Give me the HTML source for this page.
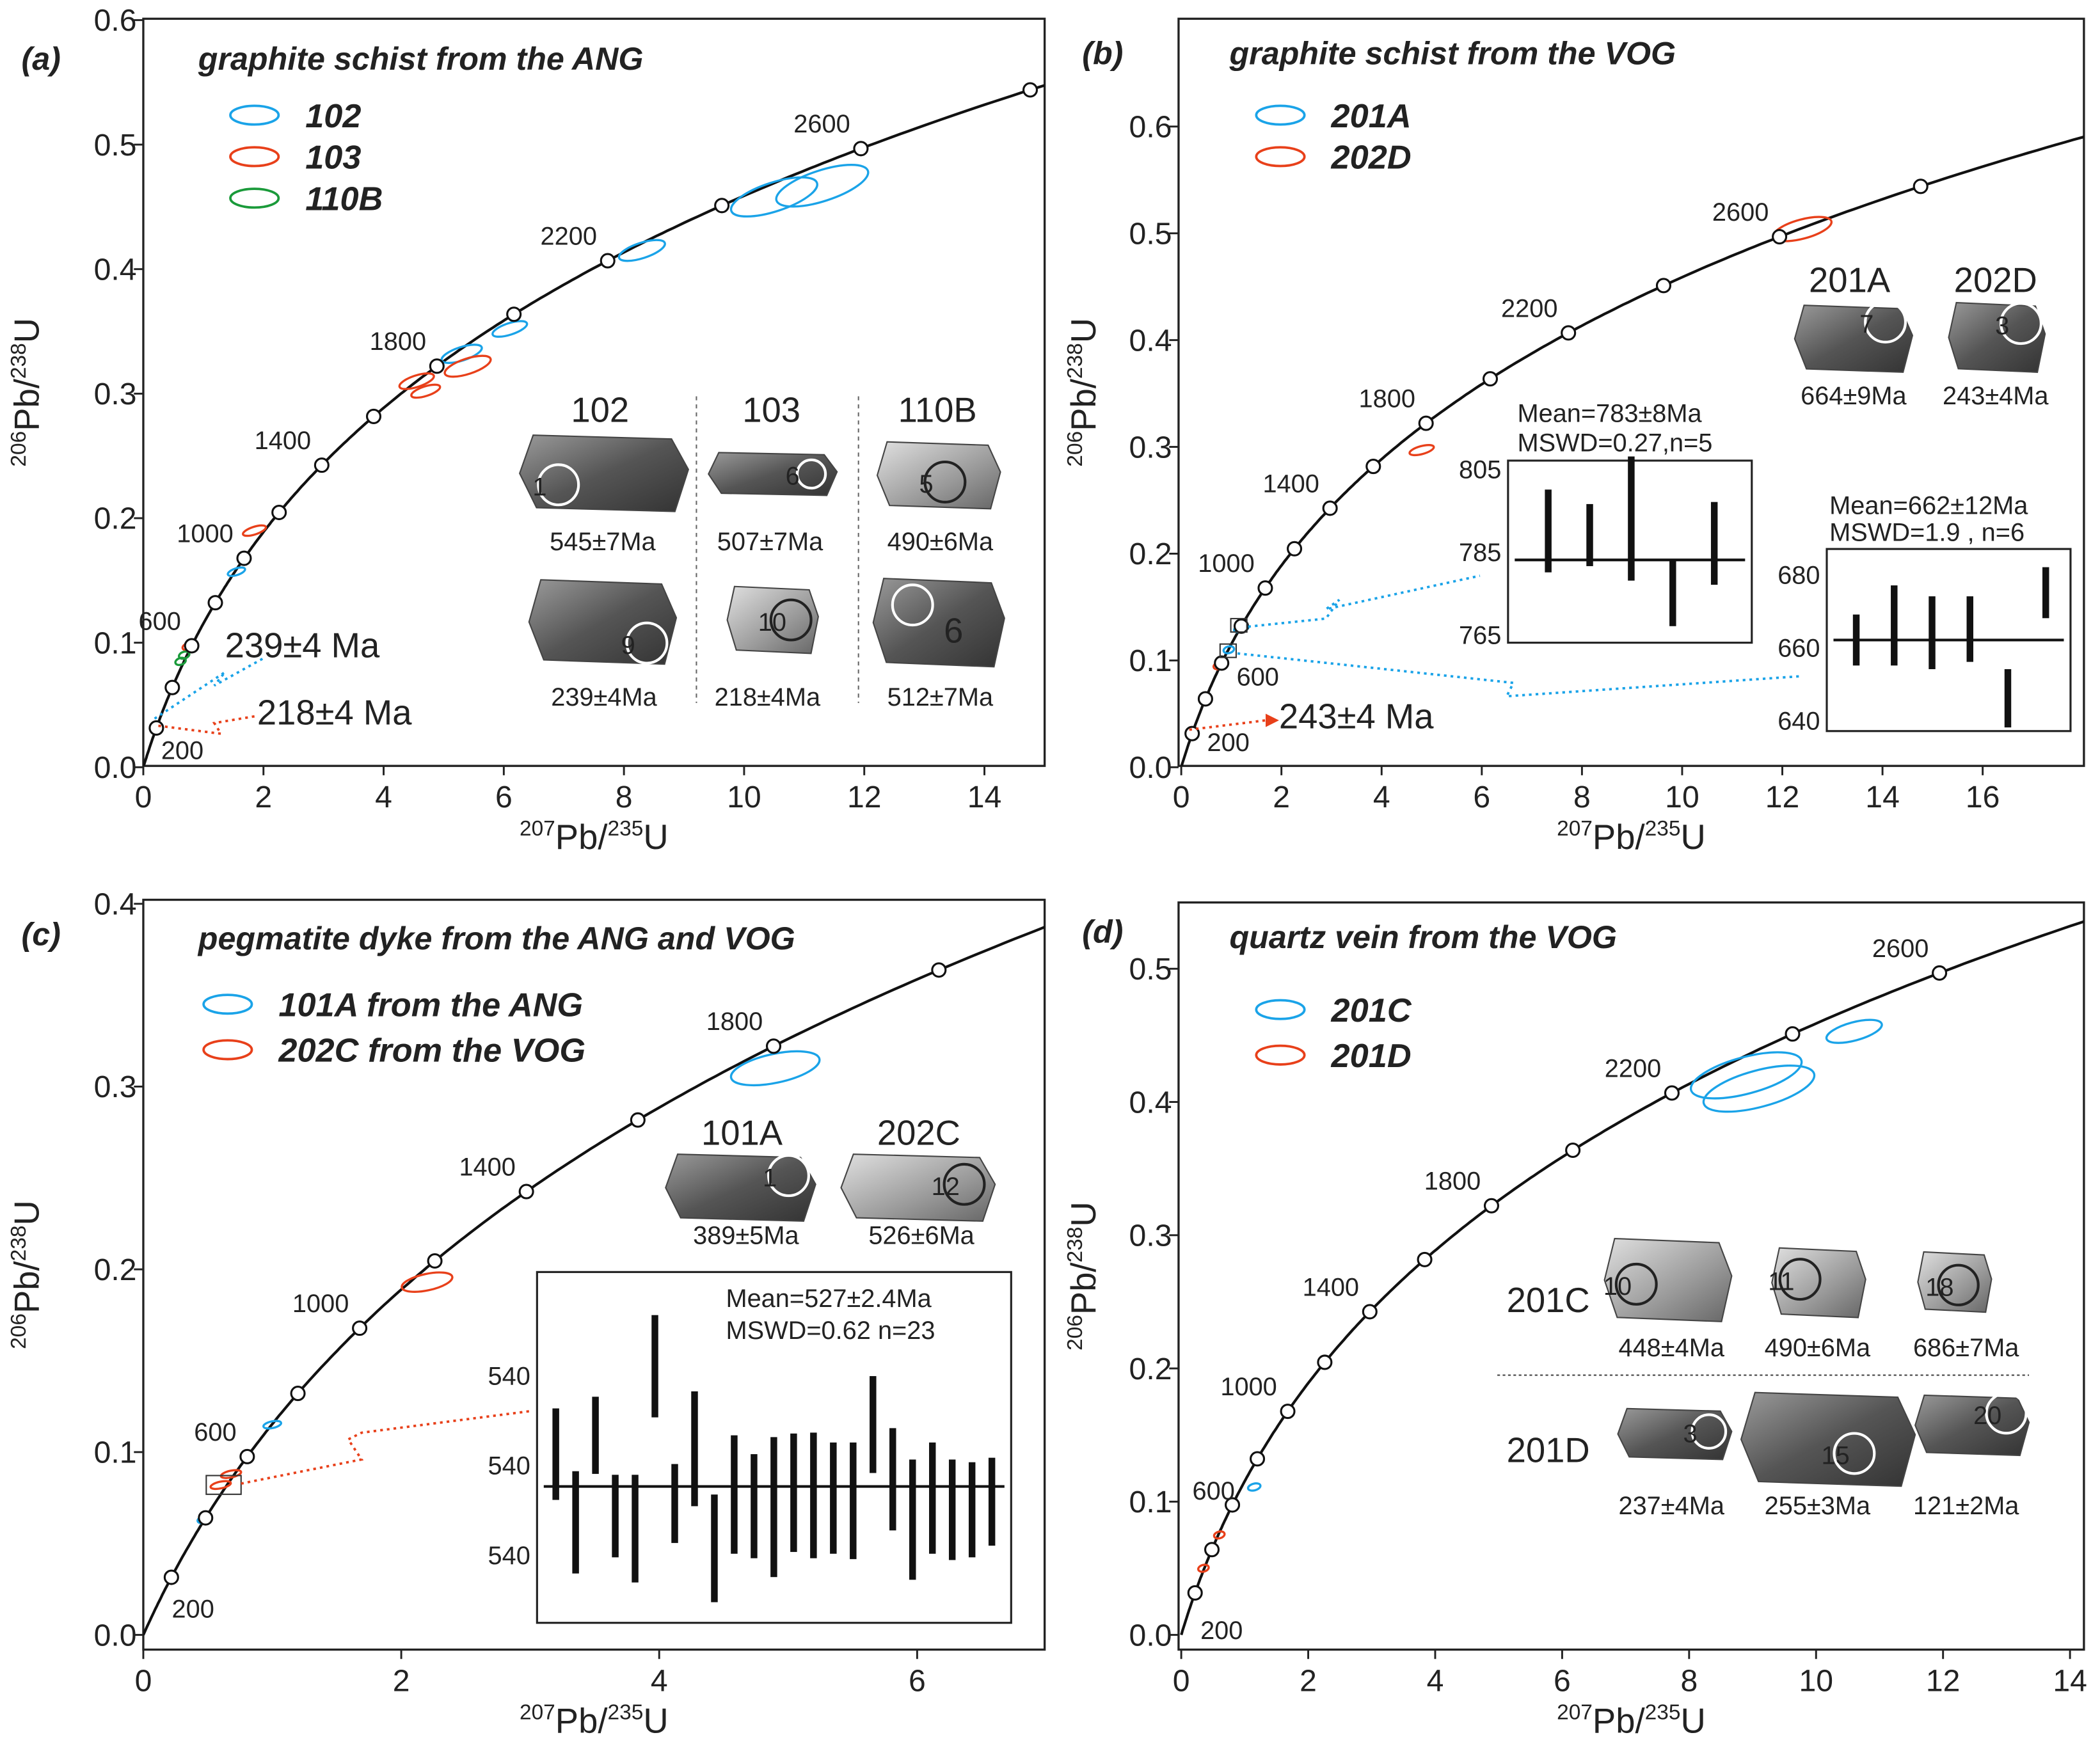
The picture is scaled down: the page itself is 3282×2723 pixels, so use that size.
<!DOCTYPE html>
<html><head><meta charset="utf-8"><style>
html,body{margin:0;padding:0;background:#fff}
svg{display:block}
text{font-family:"Liberation Sans",Arial,sans-serif;fill:#222}
.tk{font-size:23px}
.tt{font-size:26px}
.pl{font-size:24px;font-weight:bold;font-style:italic}
.lg{font-size:25px;font-weight:bold;font-style:italic}
.ag{font-size:19px}
.sm{font-size:19px}
</style></head><body>
<svg id="fig" width="3282" height="2723" viewBox="0 0 1568 1301" preserveAspectRatio="none" xmlns="http://www.w3.org/2000/svg">
<defs>
<linearGradient id="zg" x1="0" y1="0" x2="1" y2="1"><stop offset="0" stop-color="#9a9a9a"/><stop offset="0.5" stop-color="#555"/><stop offset="1" stop-color="#333"/></linearGradient>
<linearGradient id="zl" x1="0" y1="0" x2="1" y2="1"><stop offset="0" stop-color="#e0e0e0"/><stop offset="0.6" stop-color="#999"/><stop offset="1" stop-color="#666"/></linearGradient>
</defs>
</svg>
<script>
// ---- data ----
const L238 = 1.55125e-10, L235 = 9.8485e-10;
const agesA = [200,400,600,800,1000,1200,1400,1600,1800,2000,2200,2400,2600,2800];
const agesB = [200,400,600,800,1000,1200,1400,1600,1800,2000,2200,2400,2600,2800];
const agesC = [200,400,600,800,1000,1200,1400,1600,1800,2000];
const agesD = [200,400,600,800,1000,1200,1400,1600,1800,2000,2200,2400,2600];
const labA = [200,600,1000,1400,1800,2200,2600];
const labB = [200,600,1000,1400,1800,2200,2600];
const labC = [200,600,1000,1400,1800];
const labD = [200,600,1000,1400,1800,2200,2600];
const xticksA = [0,2,4,6,8,10,12,14], yticksA=[0,0.1,0.2,0.3,0.4,0.5,0.6];
const xticksB = [0,2,4,6,8,10,12,14,16], yticksB=[0,0.1,0.2,0.3,0.4,0.5,0.6];
const xticksC = [0,2,4,6], yticksC=[0,0.1,0.2,0.3,0.4];
const xticksD = [0,2,4,6,8,10,12,14], yticksD=[0,0.1,0.2,0.3,0.4,0.5];
// ellipses: [x, y, halfwidth(x units), color]
const ellA = [[10.5,0.458,0.75,'b'],[11.3,0.467,0.8,'b'],[8.3,0.415,0.4,'b'],[5.3,0.332,0.35,'b'],[6.1,0.352,0.3,'b'],[1.55,0.157,0.15,'b'],[4.55,0.31,0.3,'r'],[4.7,0.302,0.25,'r'],[5.4,0.322,0.4,'r'],[1.85,0.19,0.2,'r'],[0.75,0.097,0.1,'r'],[0.62,0.085,0.08,'g'],[0.68,0.09,0.08,'g']];
const ellB = [[12.4,0.504,0.6,'r'],[4.8,0.297,0.25,'r'],[1.2,0.13,0.15,'b'],[0.95,0.11,0.1,'b'],[0.75,0.095,0.08,'r']];
const ellC = [[4.9,0.31,0.35,'b'],[2.2,0.193,0.2,'r'],[1.0,0.115,0.07,'b'],[0.47,0.063,0.05,'b'],[0.6,0.082,0.08,'r'],[0.68,0.088,0.08,'r']];
const ellD = [[8.9,0.42,0.9,'b'],[9.1,0.41,0.9,'b'],[10.6,0.453,0.45,'b'],[1.15,0.111,0.1,'b'],[0.6,0.075,0.06,'r'],[0.35,0.05,0.05,'r']];
// weighted-mean insets: centers and errors
const wmB1 = [790,789,793,775,787], wmB1e=[10,7.5,15,8,10];
const wmB2 = [662,666,664,665,646,675], wmB2e=[7,11,10,9,8,7];
const wmC = [530.6,523.0,532.7,523.7,522.3,540.4,525.1,531.2,520.1,526.1,524.8,524.7,526.3,526.0,525.7,525.4,533.9,527.8,523.3,525.7,524.4,524.4,525.3];
const wmCe = [5.1,5.7,4.3,4.6,6.0,5.7,4.4,6.4,6.0,6.6,5.8,7.8,6.6,7.0,6.2,6.5,5.4,5.7,6.7,6.2,5.6,5.3,4.9];

const svg = document.getElementById('fig');
const NS = 'http://www.w3.org/2000/svg';
function mk(tag, at, parent, txt){const e=document.createElementNS(NS,tag);for(const k in at)e.setAttribute(k,at[k]);if(txt!==undefined)e.textContent=txt;(parent||svg).appendChild(e);return e;}
const COL={b:'#1aa3e8',r:'#e8401a',g:'#1a9a3a'};
function cx(t){return Math.exp(L235*t*1e6)-1;} function cy(t){return Math.exp(L238*t*1e6)-1;}

function panel(P){
  const g=mk('g',{});
  
  
  const X=v=>P.x0+v*P.sx, Y=v=>P.y0-v*P.sy;
  mk('clipPath',{id:'c'+P.id},g); mk('rect',{x:P.bx,y:P.by,width:P.bw,height:P.bh},g.lastChild);
  const fr=mk('rect',{x:P.bx,y:P.by,width:P.bw,height:P.bh,fill:'none',stroke:'#222','stroke-width':1.6},g);
   
  P.xt.forEach(v=>{mk('line',{x1:X(v),x2:X(v),y1:P.by+P.bh,y2:P.by+P.bh+7,stroke:'#222','stroke-width':1.4},g);
    const t=mk('text',{x:X(v),y:P.by+P.bh+31,'text-anchor':'middle',class:'tk'},g,String(v));
     });
  P.yt.forEach(v=>{mk('line',{x1:P.bx-7,x2:P.bx,y1:Y(v),y2:Y(v),stroke:'#222','stroke-width':1.4},g);
    const t=mk('text',{x:P.bx-5,y:Y(v)+8,'text-anchor':'end',class:'tk'},g,v.toFixed(1));
     });
  const xt=mk('text',{x:P.bx+P.bw/2,y:P.by+P.bh+62,'text-anchor':'middle',class:'tt'},g);
   
  xt.innerHTML='<tspan font-size="16" dy="-10">207</tspan><tspan dy="10">Pb/</tspan><tspan font-size="16" dy="-10">235</tspan><tspan dy="10">U</tspan>';
  const yx=P.bx-P.yoff, yy=P.by+P.bh/2;
  const yt=mk('text',{x:yx,y:yy,'text-anchor':'middle',class:'tt',transform:`rotate(-90 ${yx} ${yy})`},g);
   
  yt.innerHTML='<tspan font-size="16" dy="-10">206</tspan><tspan dy="10">Pb/</tspan><tspan font-size="16" dy="-10">238</tspan><tspan dy="10">U</tspan>';
  const cg=mk('g',{'clip-path':`url(#c${P.id})`},g);
  let d='';for(let t=0;t<=4000;t+=10){d+=(t?'L':'M')+X(cx(t)).toFixed(1)+','+Y(cy(t)).toFixed(1);}
  const cu=mk('path',{d:d,fill:'none',stroke:'#111','stroke-width':2},cg);
   
  P.ell.forEach(e=>{const px=X(e[0]),py=Y(e[1]),rx=e[2]*P.sx;
    const el=mk('ellipse',{cx:px,cy:py,rx:Math.max(rx,4),ry:Math.max(rx*0.32,2.5),fill:'none',stroke:COL[e[3]],'stroke-width':1.6,transform:`rotate(${P.rot} ${px} ${py})`},cg);
     });
  P.ages.forEach(a=>{const c=mk('circle',{cx:X(cx(a)),cy:Y(cy(a)),r:5,fill:'#fff',stroke:'#111','stroke-width':1.5},cg);
     });
  P.labs.forEach(a=>{const t=mk('text',{x:X(cx(a))+P.lo[0],y:Y(cy(a))+P.lo[1],'text-anchor':'end',class:'ag'},g,String(a));
     });
  return {g,X,Y};
}
function legend(g,x,y,items,dy){items.forEach((it,i)=>{
  const e=mk('ellipse',{cx:x,cy:y+i*dy,rx:18,ry:7,fill:'none',stroke:COL[it[1]],'stroke-width':1.8},g);
   
  const t=mk('text',{x:x+38,y:y+i*dy+9,class:'lg'},g,it[0]);
   });}
function txt(g,x,y,s,cls,name,anchor){const t=mk('text',{x:x,y:y,class:cls||'sm','text-anchor':anchor||'middle'},g,s);
   return t;}
function zircon(g,x,y,w,h,fill,cxr,cyr,lab){
  const z=mk('path',{d:`M${x+w*0.08},${y} L${x+w*0.9},${y+h*0.05} L${x+w},${y+h*0.45} L${x+w*0.92},${y+h} L${x+w*0.1},${y+h*0.95} L${x},${y+h*0.5} Z`,fill:fill,stroke:'#444','stroke-width':1},g);
   
  mk('circle',{cx:x+w*cxr,cy:y+h*cyr,r:Math.min(h*0.33,15),fill:'none',stroke:fill==='url(#zl)'?'#222':'#fff','stroke-width':2},g);
  if(lab)txt(g,x+w*cxr-14,y+h*cyr+8,lab,'sm','spot-number');}
function dotted(g,pts,col){const p=mk('polyline',{points:pts,fill:'none',stroke:col,'stroke-width':1.8,'stroke-dasharray':'2 3'},g);
   }
function wm(g,bx,by,bw,bh,vals,errs,ymin,ymax,mean,ticks,tlabels,barx0,barstep){
  const r=mk('rect',{x:bx,y:by,width:bw,height:bh,fill:'#fff',stroke:'#222','stroke-width':1.5},g);
   
  const V=v=>by+bh-(v-ymin)/(ymax-ymin)*bh;
  const ml=mk('line',{x1:bx+5,x2:bx+bw-5,y1:V(mean),y2:V(mean),stroke:'#111','stroke-width':2},g);
   
  vals.forEach((v,i)=>{const b=mk('rect',{x:barx0+i*barstep-2.5,y:V(v+errs[i]),width:5,height:V(v-errs[i])-V(v+errs[i]),fill:'#111'},g);
     });
  ticks.forEach((t,i)=>txt(g,bx-5,V(t)+7,tlabels[i],'sm','inset-tick-label','end'));
}

// ---- Panel a ----
let A=panel({id:'a',name:'panel-a',x0:107,y0:573,sx:44.86,sy:930,bx:107,by:14,bw:673,bh:558,xt:xticksA,yt:yticksA,ell:ellA,ages:agesA,labs:labA,lo:[-8,-12],rot:-18,yoff:78});
A.g.querySelectorAll('text.ag').forEach((t,i)=>{if(i===0){t.setAttribute('x',152);t.setAttribute('y',567);}});
txt(A.g,16,52,'(a)','pl','panel-label','start');
txt(A.g,148,52,'graphite schist from the ANG','pl','panel-title','start');
legend(A.g,190,86,[['102','b'],['103','r'],['110B','g']],31);
txt(A.g,168,491,'239±4 Ma','tt','age-annotation','start');
txt(A.g,192,541,'218±4 Ma','tt','age-annotation','start');
dotted(A.g,'196,492 160,512 168,502 115,537','#1aa3e8');
dotted(A.g,'190,535 160,540 165,548 118,542','#e8401a');
txt(A.g,448,315,'102','tt','inset-label');txt(A.g,576,315,'103','tt','inset-label');txt(A.g,700,315,'110B','tt','inset-label');
mk('line',{x1:520,x2:520,y1:296,y2:525,stroke:'#666','stroke-dasharray':'3 3'},A.g);
mk('line',{x1:641,x2:641,y1:296,y2:525,stroke:'#666','stroke-dasharray':'3 3'},A.g);
zircon(A.g,388,325,126,57,'url(#zg)',0.23,0.65,'1');zircon(A.g,529,338,96,32,'url(#zg)',0.8,0.5,'6');zircon(A.g,655,330,92,50,'url(#zl)',0.55,0.6,'5');
zircon(A.g,395,433,110,63,'url(#zg)',0.8,0.75,'9');zircon(A.g,543,438,68,50,'url(#zl)',0.7,0.5,'10');zircon(A.g,652,432,98,66,'url(#zg)',0.3,0.3,'');
txt(A.g,712,480,'6','tt','spot-number');
txt(A.g,450,411,'545±7Ma');txt(A.g,575,411,'507±7Ma');txt(A.g,702,411,'490±6Ma');
txt(A.g,451,527,'239±4Ma');txt(A.g,573,527,'218±4Ma');txt(A.g,702,527,'512±7Ma');

// ---- Panel b ----
let B=panel({id:'b',name:'panel-b',x0:882,y0:573,sx:37.4,sy:797.5,bx:880,by:14,bw:676,bh:558,xt:xticksB,yt:yticksB,ell:ellB,ages:agesB,labs:labB,lo:[-8,-12],rot:-15,yoff:62});
B.g.querySelectorAll('text.ag').forEach((t,i)=>{if(i===0){t.setAttribute('x',933);t.setAttribute('y',561);}if(i===1){t.setAttribute('x',955);t.setAttribute('y',512);}});
txt(B.g,808,48,'(b)','pl','panel-label','start');
txt(B.g,918,48,'graphite schist from the VOG','pl','panel-title','start');
legend(B.g,956,86,[['201A','b'],['202D','r']],31);
txt(B.g,1381,218,'201A','tt','inset-label');txt(B.g,1490,218,'202D','tt','inset-label');
zircon(B.g,1340,228,88,50,'url(#zg)',0.77,0.25,'7');zircon(B.g,1455,226,72,52,'url(#zg)',0.75,0.3,'3');
txt(B.g,1384,302,'664±9Ma');txt(B.g,1490,302,'243±4Ma');
txt(B.g,1133,315,'Mean=783±8Ma','sm','mean-annotation','start');txt(B.g,1133,337,'MSWD=0.27,n=5','sm','mean-annotation','start');
wm(B.g,1126,344,182,136,wmB1,wmB1e,763,807,783,[805,785,765],['805','785','765'],1156,31);
txt(B.g,1366,384,'Mean=662±12Ma','sm','mean-annotation','start');txt(B.g,1366,404,'MSWD=1.9 , n=6','sm','mean-annotation','start');
wm(B.g,1364,410,182,136,wmB2,wmB2e,637,687,662,[680,660,640],['680','660','640'],1386,28.3);
mk('rect',{x:919,y:462,width:12,height:10,fill:'none',stroke:'#333'},B.g);mk('rect',{x:911,y:481,width:12,height:10,fill:'none',stroke:'#333'},B.g);
dotted(B.g,'932,468 990,462 1000,448 990,455 1105,430','#1aa3e8');
dotted(B.g,'924,488 1130,510 1125,520 1345,505','#1aa3e8');
dotted(B.g,'888,545 945,538','#e8401a');
mk('path',{d:'M945,533 L955,538 L945,543 Z',fill:'#e8401a'},B.g);
txt(B.g,955,544,'243±4 Ma','tt','age-annotation','start');

// ---- Panel c ----
let C=panel({id:'c',name:'panel-c',x0:107,y0:1221,sx:96.3,sy:1365,bx:107,by:672,bw:673,bh:560,xt:xticksC,yt:yticksC,ell:ellC,ages:agesC,labs:labC,lo:[-8,-12],rot:-12,yoff:78});
C.g.querySelectorAll('text.ag').forEach((t,i)=>{if(i===0){t.setAttribute('x',160);t.setAttribute('y',1208);}});
txt(C.g,16,706,'(c)','pl','panel-label','start');
txt(C.g,148,709,'pegmatite dyke from the ANG and VOG','pl','panel-title','start');
legend(C.g,170,750,[['101A from the ANG','b'],['202C from the VOG','r']],34);
txt(C.g,554,855,'101A','tt','inset-label');txt(C.g,686,855,'202C','tt','inset-label');
zircon(C.g,497,862,112,50,'url(#zg)',0.82,0.32,'1');zircon(C.g,628,862,115,50,'url(#zl)',0.8,0.45,'12');
txt(C.g,557,929,'389±5Ma');txt(C.g,688,929,'526±6Ma');
wm(C.g,401,950,354,262,wmC,wmCe,511.8,550.9,527,[539.4,529.4,519.4],['540','540','540'],415,14.8);
txt(C.g,542,976,'Mean=527±2.4Ma','sm','mean-annotation','start');txt(C.g,542,1000,'MSWD=0.62   n=23','sm','mean-annotation','start');
mk('rect',{x:154,y:1102,width:26,height:14,fill:'none',stroke:'#333'},C.g);
dotted(C.g,'180,1108 270,1090 260,1075 270,1070 395,1054','#e8401a');

// ---- Panel d ----
let D=panel({id:'d',name:'panel-d',x0:882,y0:1221,sx:47.4,sy:995,bx:880,by:674,bw:676,bh:558,xt:xticksD,yt:yticksD,ell:ellD,ages:agesD,labs:labD,lo:[-8,-12],rot:-15,yoff:62});
D.g.querySelectorAll('text.ag').forEach((t,i)=>{if(i===0){t.setAttribute('x',928);t.setAttribute('y',1224);}if(i===1){t.setAttribute('x',922);t.setAttribute('y',1120);}});
txt(D.g,808,704,'(d)','pl','panel-label','start');
txt(D.g,918,708,'quartz vein from the VOG','pl','panel-title','start');
legend(D.g,956,754,[['201C','b'],['201D','r']],34);
txt(D.g,1156,980,'201C','tt','inset-label');txt(D.g,1156,1092,'201D','tt','inset-label');
zircon(D.g,1198,925,95,62,'url(#zl)',0.25,0.55,'10');zircon(D.g,1323,932,70,52,'url(#zl)',0.3,0.45,'11');zircon(D.g,1432,935,55,45,'url(#zl)',0.55,0.55,'18');
mk('line',{x1:1118,x2:1515,y1:1027,y2:1027,stroke:'#444','stroke-dasharray':'2 2'},D.g);
zircon(D.g,1208,1052,85,38,'url(#zg)',0.8,0.45,'3');zircon(D.g,1300,1040,130,70,'url(#zg)',0.65,0.65,'15');zircon(D.g,1430,1042,85,45,'url(#zg)',0.8,0.3,'20');
txt(D.g,1248,1013,'448±4Ma');txt(D.g,1357,1013,'490±6Ma');txt(D.g,1468,1013,'686±7Ma');
txt(D.g,1248,1131,'237±4Ma');txt(D.g,1357,1131,'255±3Ma');txt(D.g,1468,1131,'121±2Ma');
</script>
</body></html>
